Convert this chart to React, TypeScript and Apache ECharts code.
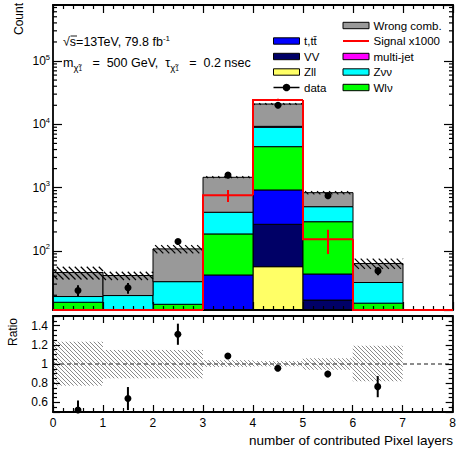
import React, { useEffect, useRef } from 'react';
import * as echarts from 'echarts';

// ---------------- data ----------------
const BIN_LOW_EDGES = [0, 1, 2, 3, 4, 5, 6, 7];
const BIN_WIDTH = 1;

// stacked backgrounds (bottom -> top), per bin contribution
const zll = [1, 0.5, 0.5, 2, 56.5, 3, 0.5, 0];
const vv = [1, 1, 1, 4, 207.5, 13.8, 1, 0];
const ttbar = [4, 3, 3, 35.8, 656, 26.5, 3, 0];
const wlnu = [9.5, 5, 9.9, 144.2, 3524, 246.7, 10.5, 0];
const znunu = [3.6, 10.3, 18.4, 223, 4546, 211, 16.8, 0];
const multijet = [0, 0, 0, 0, 310, 0, 0, 0];
const wrongComb = [26.7, 21.2, 75.2, 1049, 11650, 333, 31.7, 0];

const signal = [0, 0, 0, 758, 24300, 153, 0, 0];
const signalErr = [0, 0, 0, 165, 1000, 63, 0, 0];

const dataCounts = [23.8, 26.2, 141, 1579, 20000, 747, 48.5, null];
const dataErr = [4.9, 5.1, 11.9, 40, 141, 27, 7, null];

const ratio = [0.52, 0.64, 1.31, 1.083, 0.955, 0.896, 0.764, null];
const ratioErr = [0.1, 0.12, 0.11, 0.027, 0.007, 0.033, 0.11, null];
const bandLow = [0.774, 0.851, 0.851, 0.97, 0.975, 0.94, 0.82, null];
const bandHigh = [1.232, 1.146, 1.146, 1.04, 1.03, 1.06, 1.19, null];

const Y_MIN = 11.7;
const Y_MAX = 7.67e5;
const R_MIN = 0.5;
const R_MAX = 1.5;
const X_MIN = 0;
const X_MAX = 8;
const LOG_DECADES = [10, 100, 1000, 10000, 100000];
const LOG_MINOR_MULTS = [2, 3, 4, 5, 6, 7, 8, 9];

const layers = [
  { key: 'zll', values: zll },
  { key: 'vv', values: vv },
  { key: 'ttbar', values: ttbar },
  { key: 'wlnu', values: wlnu },
  { key: 'znunu', values: znunu },
  { key: 'multijet', values: multijet },
  { key: 'wrong', values: wrongComb },
];

const COLORS: Record<string, string> = {
  zll: '#ffff66',
  vv: '#000066',
  ttbar: '#0000ff',
  wlnu: '#00ff00',
  znunu: '#00ffff',
  multijet: '#ff00ff',
  wrong: '#999999',
};

const FONT = '"Liberation Sans", Arial, Helvetica, sans-serif';

// ---------------- renderers ----------------
function rectRenderer(color: string) {
  return (params: any, api: any) => {
    const p0 = api.coord([api.value(0), api.value(2)]);
    const p1 = api.coord([api.value(1), api.value(3)]);
    return {
      type: 'rect',
      shape: { x: p0[0], y: p1[1], width: p1[0] - p0[0], height: p0[1] - p1[1] },
      style: { fill: color, stroke: '#000', lineWidth: 1 },
    };
  };
}

function hatchRenderer(pitch: number, color: string, lw: number) {
  return (params: any, api: any) => {
    const p0 = api.coord([api.value(0), api.value(2)]);
    const p1 = api.coord([api.value(1), api.value(3)]);
    const x = p0[0], y = p1[1], w = p1[0] - p0[0], h = p0[1] - p1[1];
    const children: any[] = [];
    const cStart = Math.ceil((x - (y + h)) / pitch) * pitch;
    for (let c = cStart; c <= x + w - y; c += pitch) {
      const ya = Math.max(y, x - c);
      const yb = Math.min(y + h, x + w - c);
      if (yb > ya) {
        children.push({
          type: 'line',
          shape: { x1: c + ya, y1: ya, x2: c + yb, y2: yb },
          style: { stroke: color, lineWidth: lw },
        });
      }
    }
    return { type: 'group', children };
  };
}

function pointRenderer(lowClamp: number, highClamp: number) {
  return (params: any, api: any) => {
    const xv = api.value(0), v = api.value(1), e = api.value(2);
    const c = api.coord([xv, v]);
    const top = api.coord([xv, Math.min(v + e, highClamp)]);
    const bot = api.coord([xv, Math.max(v - e, lowClamp)]);
    return {
      type: 'group',
      children: [
        { type: 'line', shape: { x1: c[0], y1: top[1], x2: c[0], y2: bot[1] }, style: { stroke: '#000', lineWidth: 2 } },
        { type: 'circle', shape: { cx: c[0], cy: c[1], r: 3.5 }, style: { fill: '#000' } },
      ],
    };
  };
}

function signalRenderer(params: any, api: any) {
  const x0 = api.value(0), x1 = api.value(1), v = api.value(2), prev = api.value(3), e = api.value(4);
  const a = api.coord([x0, prev]);
  const b = api.coord([x0, v]);
  const c = api.coord([x1, v]);
  const children: any[] = [
    { type: 'polyline', shape: { points: [a, b, c] }, style: { stroke: '#ff0000', lineWidth: 2, fill: null } },
  ];
  if (e > 0) {
    const xm = (x0 + x1) / 2;
    const t = api.coord([xm, Math.min(v + e, Y_MAX)]);
    const d = api.coord([xm, Math.max(v - e, Y_MIN)]);
    children.push({ type: 'line', shape: { x1: t[0], y1: t[1], x2: d[0], y2: d[1] }, style: { stroke: '#ff0000', lineWidth: 2 } });
  }
  return { type: 'group', children };
}

function logMinorTickRenderer(params: any, api: any) {
  const v = api.value(1);
  const l = api.coord([X_MIN, v]);
  const r = api.coord([X_MAX, v]);
  return {
    type: 'group',
    children: [
      { type: 'line', shape: { x1: l[0], y1: l[1], x2: l[0] + 4, y2: l[1] }, style: { stroke: '#000', lineWidth: 1.2 } },
      { type: 'line', shape: { x1: r[0] - 4, y1: r[1], x2: r[0], y2: r[1] }, style: { stroke: '#000', lineWidth: 1.2 } },
    ],
  };
}

// ---------------- build option ----------------
function buildOption() {
  const cum = BIN_LOW_EDGES.map(() => 0);
  const stackSeries = layers.map((L) => {
    const items: number[][] = [];
    BIN_LOW_EDGES.forEach((b, i) => {
      const lo = cum[i];
      const hi = lo + L.values[i];
      cum[i] = hi;
      if (hi > Y_MIN && hi > lo) {
        items.push([b, b + BIN_WIDTH, Math.max(lo, Y_MIN), Math.min(hi, Y_MAX)]);
      }
    });
    return {
      type: 'custom', name: L.key, xAxisIndex: 0, yAxisIndex: 0, z: 2, silent: true,
      encode: { x: [0, 1], y: [2, 3] }, data: items, renderItem: rectRenderer(COLORS[L.key]),
    };
  });
  const totals = cum;

  const upperBand: number[][] = [];
  const ratioBand: number[][] = [];
  BIN_LOW_EDGES.forEach((b, i) => {
    if (bandLow[i] == null || bandHigh[i] == null) return;
    upperBand.push([b, b + BIN_WIDTH, Math.max(totals[i] * (bandLow[i] as number), Y_MIN), totals[i] * (bandHigh[i] as number)]);
    ratioBand.push([b, b + BIN_WIDTH, bandLow[i] as number, bandHigh[i] as number]);
  });

  const dataPts: number[][] = [];
  const ratioPts: number[][] = [];
  BIN_LOW_EDGES.forEach((b, i) => {
    if (dataCounts[i] != null) dataPts.push([b + BIN_WIDTH / 2, dataCounts[i] as number, dataErr[i] as number]);
    if (ratio[i] != null) ratioPts.push([b + BIN_WIDTH / 2, ratio[i] as number, ratioErr[i] as number]);
  });

  const signalItems: number[][] = BIN_LOW_EDGES.map((b, i) => {
    const v = Math.max(signal[i], Y_MIN);
    const prev = i === 0 ? Y_MIN : Math.max(signal[i - 1], Y_MIN);
    return [b, b + BIN_WIDTH, v, prev, signalErr[i]];
  });

  const minorTicks: number[][] = [];
  LOG_DECADES.forEach((d) => LOG_MINOR_MULTS.forEach((m) => {
    const v = d * m;
    if (v > Y_MIN && v < Y_MAX) minorTicks.push([X_MIN, v]);
  }));

  const tickStyle = { color: '#000', width: 1.2 };
  const xAxisBase = (grid: number, pos: string, labels: boolean) => ({
    gridIndex: grid, type: 'value', min: X_MIN, max: X_MAX, interval: 1, position: pos, z: 5,
    axisLine: { show: true, onZero: false, lineStyle: { color: '#000', width: 1.8 } },
    axisTick: { show: true, inside: true, length: grid === 0 ? 8 : 7, lineStyle: tickStyle },
    minorTick: { show: true, splitNumber: 5, length: 4, lineStyle: tickStyle },
    splitLine: { show: false },
    axisLabel: labels
      ? { show: true, color: '#000', fontSize: 12, fontFamily: FONT, margin: 5 }
      : { show: false },
  });

  const logAxis = (pos: string, labels: boolean) => ({
    gridIndex: 0, type: 'log', logBase: 10, min: Y_MIN, max: Y_MAX, position: pos, z: 5,
    axisLine: { show: true, onZero: false, lineStyle: { color: '#000', width: 1.8 } },
    axisTick: { show: true, inside: true, length: 9, lineStyle: tickStyle },
    minorTick: { show: false },
    splitLine: { show: false },
    axisLabel: labels
      ? {
          show: true, margin: 3, color: '#000', fontFamily: FONT, showMinLabel: false, showMaxLabel: false,
          formatter: (v: number) => {
            const e = Math.log10(v);
            const r = Math.round(e);
            if (Math.abs(e - r) > 1e-6) return '';
            return `{b|10}{s|${r}}`;
          },
          rich: {
            b: { fontSize: 12, lineHeight: 16, fontFamily: FONT, color: '#000' },
            s: { fontSize: 7.5, lineHeight: 7, verticalAlign: 'top', fontFamily: FONT, color: '#000' },
          },
        }
      : { show: false },
  });

  const ratioAxis = (pos: string, labels: boolean) => ({
    gridIndex: 1, type: 'value', min: R_MIN, max: R_MAX, position: pos, z: 5,
    axisLine: { show: true, onZero: false, lineStyle: { color: '#000', width: 1.8 } },
    axisTick: { show: true, inside: true, length: 7, lineStyle: tickStyle },
    minorTick: { show: true, splitNumber: 4, length: 4, lineStyle: tickStyle },
    splitLine: { show: false },
    axisLabel: labels
      ? {
          show: true, margin: 5, color: '#000', fontSize: 12, fontFamily: FONT,
          formatter: (v: number) => (v < R_MIN + 0.05 || v > R_MAX - 0.05 ? '' : String(Math.round(v * 10) / 10)),
        }
      : { show: false },
  });

  const legendLeft = [
    { label: 't,tt\u0304', key: 'ttbar', y: 41 },
    { label: 'VV', key: 'vv', y: 56.5 },
    { label: 'Zll', key: 'zll', y: 72 },
  ];
  const legendRight = [
    { label: 'Wrong comb.', key: 'wrong', y: 25.5 },
    { label: 'multi-jet', key: 'multijet', y: 56.5 },
    { label: 'Z\u03bd\u03bd', key: 'znunu', y: 72 },
    { label: 'Wl\u03bd', key: 'wlnu', y: 87.5 },
  ];
  const legendGraphics: any[] = [];
  const addBox = (x: number, y: number, color: string, label: string) => {
    legendGraphics.push({ type: 'rect', shape: { x, y: y - 3.2, width: 26, height: 6.4 }, style: { fill: color, stroke: '#000', lineWidth: 1 } });
    legendGraphics.push({ type: 'text', x: x + 30.5, y, style: { text: label, fontSize: 11.5, fontFamily: FONT, fill: '#000', verticalAlign: 'middle', align: 'left' } });
  };
  legendLeft.forEach((e) => addBox(273.5, e.y, COLORS[e.key], e.label));
  legendRight.forEach((e) => addBox(343, e.y, COLORS[e.key], e.label));
  legendGraphics.push({ type: 'line', shape: { x1: 343, y1: 41, x2: 369, y2: 41 }, style: { stroke: '#ff0000', lineWidth: 2 } });
  legendGraphics.push({ type: 'text', x: 373.5, y: 41, style: { text: 'Signal x1000', fontSize: 11.5, fontFamily: FONT, fill: '#000', verticalAlign: 'middle' } });
  legendGraphics.push({ type: 'line', shape: { x1: 273.5, y1: 87.5, x2: 299.5, y2: 87.5 }, style: { stroke: '#000', lineWidth: 1.5 } });
  legendGraphics.push({ type: 'circle', shape: { cx: 286.5, cy: 87.5, r: 3.8 }, style: { fill: '#000' } });
  legendGraphics.push({ type: 'text', x: 304, y: 87.5, style: { text: 'data', fontSize: 11.5, fontFamily: FONT, fill: '#000', verticalAlign: 'middle' } });

  const annot: any[] = [
    {
      type: 'text', x: 63, y: 42,
      style: {
        text: '{t|\u221as=13TeV, 79.8 fb}{s|-1}', verticalAlign: 'middle',
        rich: {
          t: { fontSize: 12.5, lineHeight: 16, fontFamily: FONT, fill: '#000' },
          s: { fontSize: 8, lineHeight: 7, verticalAlign: 'top', fontFamily: FONT, fill: '#000' },
        },
      },
    },
    { type: 'line', shape: { x1: 70.5, y1: 36, x2: 77, y2: 36 }, style: { stroke: '#000', lineWidth: 0.9 } },
    {
      type: 'text', x: 63, y: 63,
      style: {
        text: '{t|m}{sb|\u03c7\u0303}{s1|1}{t|   =  500 GeV,  \u03c4}{sb|\u03c7\u0303}{s1|1}{t|   =  0.2 nsec}', verticalAlign: 'middle',
        rich: {
          t: { fontSize: 12.5, lineHeight: 18, fontFamily: FONT, fill: '#000' },
          sb: { fontSize: 9.5, lineHeight: 10, verticalAlign: 'bottom', fontFamily: FONT, fill: '#000' },
          s1: { fontSize: 6.5, lineHeight: 5, verticalAlign: 'bottom', fontFamily: FONT, fill: '#000' },
        },
      },
    },
    { type: 'text', x: 19, y: 3, rotation: Math.PI / 2, style: { text: 'Count', fontSize: 12, fontFamily: FONT, fill: '#000', align: 'right', verticalAlign: 'middle' } },
    { type: 'text', x: 13, y: 318, rotation: Math.PI / 2, style: { text: 'Ratio', fontSize: 12, fontFamily: FONT, fill: '#000', align: 'right', verticalAlign: 'middle' } },
    { type: 'text', x: 453, y: 440, style: { text: 'number of contributed Pixel layers', fontSize: 13.5, fontFamily: FONT, fill: '#000', align: 'right', verticalAlign: 'middle' } },
  ];

  return {
    animation: false,
    backgroundColor: '#fff',
    textStyle: { fontFamily: FONT },
    grid: [
      { left: 53, top: 5, width: 400, height: 305 },
      { left: 53, top: 316, width: 400, height: 96 },
    ],
    xAxis: [
      xAxisBase(0, 'bottom', false),
      xAxisBase(0, 'top', false),
      xAxisBase(1, 'bottom', true),
      xAxisBase(1, 'top', false),
    ],
    yAxis: [
      logAxis('left', true),
      logAxis('right', false),
      ratioAxis('left', true),
      ratioAxis('right', false),
    ],
    graphic: [...legendGraphics, ...annot],
    series: [
      ...stackSeries,
      {
        type: 'custom', name: 'band', xAxisIndex: 0, yAxisIndex: 0, z: 3, silent: true,
        encode: { x: [0, 1], y: [2, 3] }, data: upperBand, renderItem: hatchRenderer(6, '#000', 1.2),
      },
      {
        type: 'custom', name: 'logMinor', xAxisIndex: 0, yAxisIndex: 0, z: 5, silent: true,
        encode: { x: 0, y: 1 }, data: minorTicks, renderItem: logMinorTickRenderer,
      },
      {
        type: 'custom', name: 'signal', xAxisIndex: 0, yAxisIndex: 0, z: 6, silent: true,
        encode: { x: [0, 1], y: [2, 3] }, data: signalItems, renderItem: signalRenderer,
      },
      {
        type: 'custom', name: 'data', xAxisIndex: 0, yAxisIndex: 0, z: 7, silent: true,
        encode: { x: 0, y: 1 }, data: dataPts, renderItem: pointRenderer(Y_MIN, Y_MAX),
      },
      {
        type: 'custom', name: 'ratioBand', xAxisIndex: 2, yAxisIndex: 2, z: 3, silent: true,
        encode: { x: [0, 1], y: [2, 3] }, data: ratioBand, renderItem: hatchRenderer(4, '#8a8a8a', 1),
      },
      {
        type: 'line', name: 'unity', xAxisIndex: 2, yAxisIndex: 2, z: 4, silent: true, symbol: 'none',
        data: [[X_MIN, 1], [X_MAX, 1]], lineStyle: { color: '#666', width: 1.3, type: [4, 3] },
      },
      {
        type: 'custom', name: 'ratioPts', xAxisIndex: 2, yAxisIndex: 2, z: 7, silent: true,
        encode: { x: 0, y: 1 }, data: ratioPts, renderItem: pointRenderer(R_MIN, R_MAX),
      },
    ],
  };
}

export default function App() {
  const ref = useRef<HTMLDivElement>(null);
  useEffect(() => {
    if (!ref.current) return;
    const chart = echarts.init(ref.current, null, { renderer: 'svg' });
    chart.setOption(buildOption() as any);
    return () => chart.dispose();
  }, []);
  return <div ref={ref} style={{ position: 'fixed', left: 0, top: 0, width: 459, height: 452 }} />;
}
